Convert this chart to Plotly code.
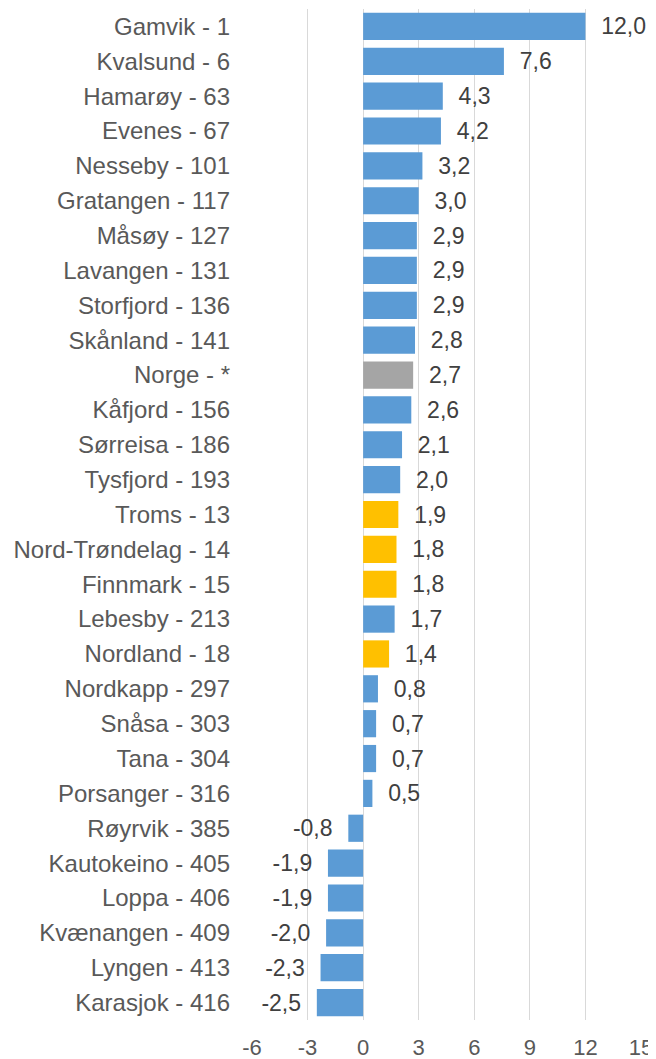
import plotly.graph_objects as go

categories = ["Gamvik - 1", "Kvalsund - 6", "Hamarøy - 63", "Evenes - 67", "Nesseby - 101",
              "Gratangen - 117", "Måsøy - 127", "Lavangen - 131", "Storfjord - 136", "Skånland - 141",
              "Norge - *", "Kåfjord - 156", "Sørreisa - 186", "Tysfjord - 193", "Troms - 13",
              "Nord-Trøndelag - 14", "Finnmark - 15", "Lebesby - 213", "Nordland - 18", "Nordkapp - 297",
              "Snåsa - 303", "Tana - 304", "Porsanger - 316", "Røyrvik - 385", "Kautokeino - 405",
              "Loppa - 406", "Kvænangen - 409", "Lyngen - 413", "Karasjok - 416"]
values = [12.0, 7.6, 4.3, 4.2, 3.2, 3.0, 2.9, 2.9, 2.9, 2.8,
          2.7, 2.6, 2.1, 2.0, 1.9, 1.8, 1.8, 1.7, 1.4, 0.8,
          0.7, 0.7, 0.5, -0.8, -1.9, -1.9, -2.0, -2.3, -2.5]
level = ["kommune"] * 10 + ["land"] + ["kommune"] * 3 + ["fylke", "fylke", "fylke", "kommune", "fylke"] + ["kommune"] * 10
x_ticks = [-6, -3, 0, 3, 6, 9, 12, 15]

color_map = {"kommune": "#5B9BD5", "fylke": "#FFC000", "land": "#A5A5A5"}
colors = [color_map[l] for l in level]

pad = "\u00a0\u00a0"
labels = []
for v in values:
    s = f"{v:.1f}".replace(".", ",")
    labels.append(pad + s if v >= 0 else s + pad)

fig = go.Figure(go.Bar(
    x=values, y=categories, orientation="h",
    marker=dict(color=colors, line=dict(width=0)),
    text=labels, textposition="outside", cliponaxis=False, constraintext="none",
    textfont=dict(family="Liberation Sans, Arial", size=23, color="#404040"),
    hoverinfo="skip",
))

# page body has an 8px default margin, so the figure is sized to fit inside the window
fig.update_layout(
    width=648, height=1051,
    margin=dict(l=244, r=15, t=1, b=39),
    paper_bgcolor="white", plot_bgcolor="white",
    bargap=0.22, showlegend=False,
    font=dict(family="Liberation Sans, Arial", size=22, color="#595959"),
)
fig.update_xaxes(
    range=[-6, 15], tickvals=x_ticks, ticktext=[str(t) for t in x_ticks],
    showgrid=True, gridcolor="#D9D9D9", gridwidth=1,
    zeroline=True, zerolinecolor="#D9D9D9", zerolinewidth=1,
    showline=False, ticks="", tickfont=dict(size=22, color="#595959"),
    ticklabelstandoff=12, automargin=False,
)
fig.update_yaxes(
    autorange="reversed", showgrid=False, showline=False, ticks="",
    tickfont=dict(size=24, color="#595959"), ticklabelstandoff=21,
    automargin=False,
)

fig.write_html("out.html")
